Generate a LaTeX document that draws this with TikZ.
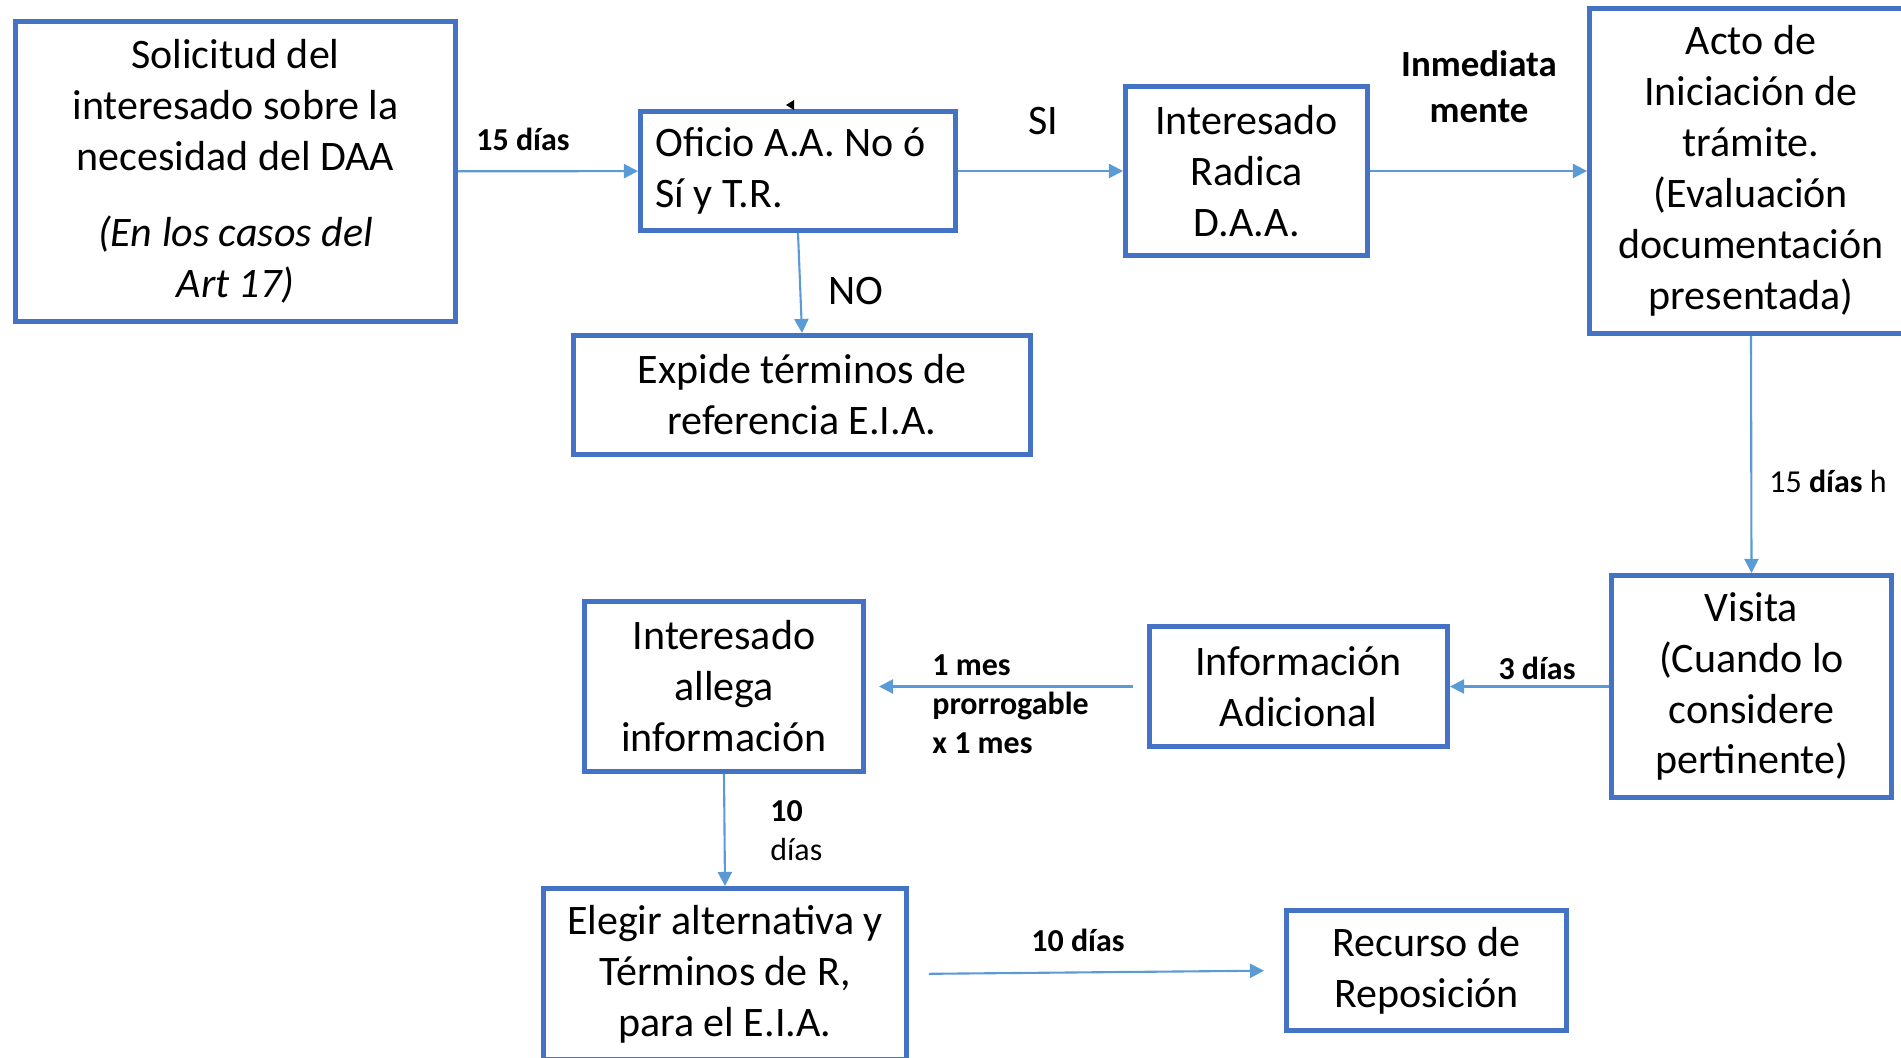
\documentclass[tikz,border=0pt]{standalone}
\usepackage{fontspec}
\setmainfont{Carlito}
\usetikzlibrary{arrows.meta}
\definecolor{boxblue}{HTML}{4472C4}
\definecolor{arrowblue}{HTML}{5B9BD5}
\tikzstyle{every node}=[font=\fontsize{23.9}{29}\selectfont]

\begin{document}
\begin{tikzpicture}[
            x=0.02cm, y=-0.02cm,
            paso/.style={draw=boxblue, line width=2.85pt, inner sep=0pt, align=center},
            flecha/.style={draw=arrowblue, line width=1.2pt, -{Triangle[length=8pt,width=8pt]}},
            etiq/.style={font=\fontsize{18.2}{22.2}\selectfont\bfseries, inner sep=0pt},
            grande/.style={inner sep=0pt}]
        \useasboundingbox (0,0) rectangle (1901,1058);
        \clip (0,0) rectangle (1901,1058);
        % cajas
        \node[paso, minimum width=8.8cm, minimum height=6cm] (sol) at (235.5,171.5) {Solicitud del\\interesado sobre la\\necesidad del DAA\\[14pt]\textit{(En los casos del}\\\textit{Art 17)}};
        \node[paso, minimum width=6.3cm, minimum height=2.38cm, align=flush left, text width=5.7cm] (ofi) at (798,171) {Oficio A.A. No ó\\Sí y T.R.};
        \node[paso, minimum width=9.14cm, minimum height=2.38cm] (exp) at (802,395) {Expide términos de\\referencia E.I.A.};
        \node[paso, minimum width=4.84cm, minimum height=3.38cm] (rad) at (1246.5,171) {Interesado\\Radica\\D.A.A.};
        \node[paso, minimum width=6.46cm, minimum height=6.5cm] (acto) at (1751,171) {Acto de\\Iniciación de\\trámite.\\(Evaluación\\documentación\\presentada)};
        \node[paso, minimum width=5.6cm, minimum height=4.44cm] (vis) at (1751.5,686.5) {Visita\\(Cuando lo\\considere\\pertinente)};
        \node[paso, minimum width=5.96cm, minimum height=2.4cm] (info) at (1298.5,686.5) {Información\\Adicional};
        \node[paso, minimum width=5.58cm, minimum height=3.4cm] (all) at (724,686.5) {Interesado\\allega\\información};
        \node[paso, minimum width=7.26cm, minimum height=3.42cm] (ele) at (725,974) {Elegir alternativa y\\Términos de R,\\para el E.I.A.};
        \node[paso, minimum width=5.6cm, minimum height=2.4cm] (rec) at (1426.5,970.5) {Recurso de\\Reposición};
        % flechas
        \draw[flecha] (sol) -- (ofi);
        \draw[flecha] (ofi) -- (rad);
        \draw[flecha] (rad) -- (acto);
        \draw[flecha] (ofi.south) -- (exp.north);
        \draw[flecha] (acto.south) -- (vis.north);
        \draw[flecha] (vis.west) -- (info.east);
        \draw[flecha, shorten <=0.28cm, shorten >=0.26cm] (info.west) -- (all.east);
        \draw[flecha] (all.south) -- (ele.north);
        \draw[flecha, shorten <=0.4cm, shorten >=0.4cm] (ele.east) -- (rec.west);
        % etiquetas
        \node[etiq] (l15) at (523,139) {15 días};
        \node[grande] (lsi) at (1043,121) {SI};
        \node[etiq, font=\fontsize{21}{26.2}\selectfont\bfseries, align=center] (linm) at (1479,87) {Inmediata\\mente};
        \node[grande] (lno) at (856,291) {NO};
        \node[etiq, font=\fontsize{18.2}{22.2}\selectfont] (l15h) at (1828,481) {15 \textbf{días} h};
        \node[etiq] (l3) at (1537,668) {3 días};
        \node[etiq, align=left, anchor=west] (lmes) at (932,704.5) {1 mes\\prorrogable\\x 1 mes};
        \node[etiq, align=left, anchor=west] (l10) at (770,831) {10\\\mdseries días};
        \node[etiq] (l10d) at (1078,940) {10 días};
        \fill (794,100) -- (786,105) -- (794,110) -- cycle;
    \end{tikzpicture}
\end{document}
